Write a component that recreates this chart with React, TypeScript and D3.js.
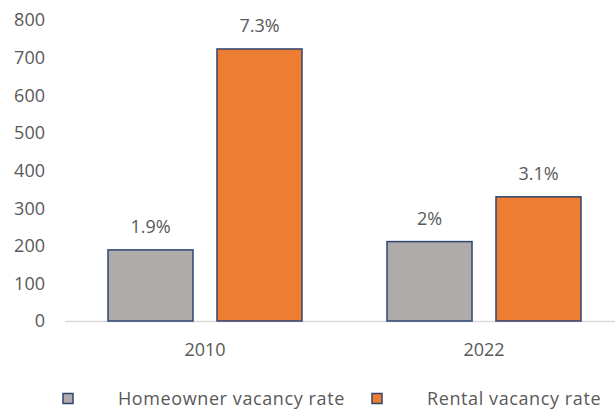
import React from "react";
import * as d3 from "d3";

const categories = ["2010", "2022"];
const seriesNames = ["Homeowner vacancy rate", "Rental vacancy rate"];
const homeownerValues = [189, 211];
const rentalValues = [723, 330];
const homeownerLabels = ["1.9%", "2%"];
const rentalLabels = ["7.3%", "3.1%"];
const yTicks = [0, 100, 200, 300, 400, 500, 600, 700, 800];

const colors = ["#AFABAB", "#ED7D31"];
const stroke = "#2F4673";
const textColor = "#595959";
const font = "'Open Sans', sans-serif";

export default function App() {
  const W = 615, H = 411;
  const y = d3.scaleLinear().domain([0, 800]).range([321, 20]);
  const x = d3.scaleBand().domain(categories).range([65.5, 623.5]).paddingInner(0).paddingOuter(0);
  const xs = d3.scaleBand().domain(seriesNames).range([0, x.bandwidth()]).paddingInner(0.22).paddingOuter(0.39);
  const values = [homeownerValues, rentalValues];
  const labels = [homeownerLabels, rentalLabels];

  return (
    <svg width={W} height={H} style={{ position: "absolute", left: 0, top: 0, background: "#fff" }} fontFamily={font}>
      {yTicks.map((t) => (
        <text key={t} x={45} y={y(t)} dy="0.36em" textAnchor="end" fontSize={18} fill={textColor}>
          {t}
        </text>
      ))}
      <line x1={65.5} x2={W} y1={y(0) + 0.5} y2={y(0) + 0.5} stroke="#D9D9D9" strokeWidth={1.5} />
      {categories.map((c, ci) => (
        <g key={c} transform={`translate(${x(c)},0)`}>
          {seriesNames.map((s, si) => {
            const v = values[si][ci];
            const bx = xs(s)!;
            return (
              <g key={s}>
                <rect x={bx} y={y(v)} width={xs.bandwidth()} height={y(0) - y(v)} fill={colors[si]} stroke={stroke} strokeWidth={1.5} />
                <text x={bx + xs.bandwidth() / 2} y={y(v) - 17} textAnchor="middle" fontSize={18} fill={textColor}>
                  {labels[si][ci]}
                </text>
              </g>
            );
          })}
          <text x={x.bandwidth() / 2} y={356} textAnchor="middle" fontSize={18} fill={textColor}>
            {c}
          </text>
        </g>
      ))}
      {seriesNames.map((s, si) => {
        const sx = si === 0 ? 63 : 372;
        const tx = si === 0 ? 118 : 427;
        return (
          <g key={s}>
            <rect x={sx} y={393.5} width={10} height={10} fill={colors[si]} stroke={stroke} strokeWidth={1.5} />
            <text x={tx} y={399} dy="0.36em" fontSize={18} letterSpacing={0.6} fill={textColor}>
              {s}
            </text>
          </g>
        );
      })}
    </svg>
  );
}
